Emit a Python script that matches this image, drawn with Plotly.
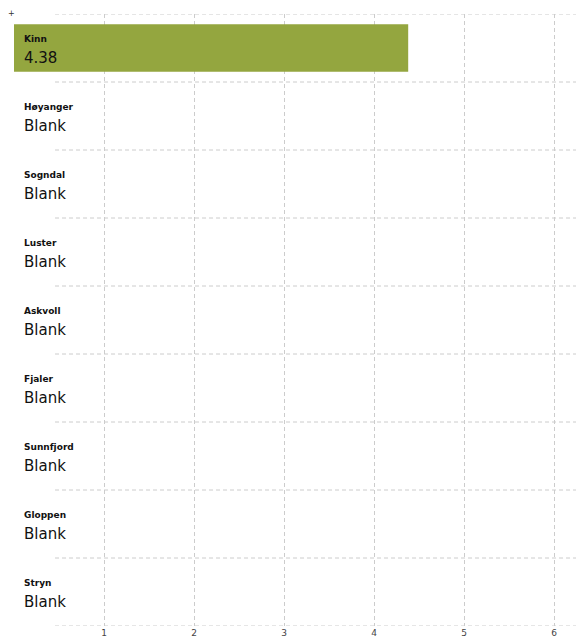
import plotly.graph_objects as go

KOMMUNER = ["Kinn", "Høyanger", "Sogndal", "Luster", "Askvoll", "Fjaler",
            "Sunnfjord", "Gloppen", "Stryn"]
VERDIER = [4.38, None, None, None, None, None, None, None, None]
TICKS = [1, 2, 3, 4, 5, 6]

BAR_COLOR = "#94a63f"
GRID_COLOR = "#cccccc"
FONT = "DejaVu Sans"

fig = go.Figure(go.Bar(
    x=[v if v is not None else 0 for v in VERDIER],
    y=KOMMUNER,
    orientation="h",
    width=0.7,
    marker=dict(color=BAR_COLOR, line=dict(width=0)),
    hoverinfo="skip",
))

annotations = []
for name, val in zip(KOMMUNER, VERDIER):
    label = f"{val:.2f}" if val is not None else "Blank"
    annotations.append(dict(
        x=0, y=name, xref="x", yref="y", text=f"<b>{name}</b>",
        showarrow=False, xanchor="left", yanchor="middle",
        xshift=8, yshift=9, font=dict(family=FONT, size=9, color="#111"),
    ))
    annotations.append(dict(
        x=0, y=name, xref="x", yref="y", text=label,
        showarrow=False, xanchor="left", yanchor="middle",
        xshift=8, yshift=-10, font=dict(family=FONT, size=15, color="#111"),
    ))
annotations.append(dict(
    x=0, y=1, xref="paper", yref="paper", text="+", showarrow=False,
    xanchor="left", yanchor="top", xshift=-8, yshift=7,
    font=dict(family=FONT, size=8, color="#333"),
))

shapes = []
for k in range(len(KOMMUNER) + 1):
    shapes.append(dict(
        type="line", xref="paper", yref="y", x0=0.072, x1=1,
        y0=k - 0.5, y1=k - 0.5, layer="below",
        line=dict(color=GRID_COLOR, width=1, dash="4px,3px"),
    ))

fig.update_layout(
    width=576, height=633,
    template="none",
    paper_bgcolor="white", plot_bgcolor="white",
    margin=dict(l=6, r=0, t=6, b=15),
    showlegend=False,
    annotations=annotations,
    shapes=shapes,
    font=dict(family=FONT),
    xaxis=dict(
        range=[0, 570 / 90], tickvals=TICKS, ticktext=[str(t) for t in TICKS],
        showgrid=True, gridcolor=GRID_COLOR, gridwidth=1, griddash="4px,3px",
        zeroline=False, showline=False, ticks="",
        tickfont=dict(family=FONT, size=9, color="#444"),
    ),
    yaxis=dict(
        range=[8.5, -0.5], showticklabels=False, showgrid=False,
        zeroline=False, showline=False, ticks="",
    ),
)

fig.write_html("out.html")
